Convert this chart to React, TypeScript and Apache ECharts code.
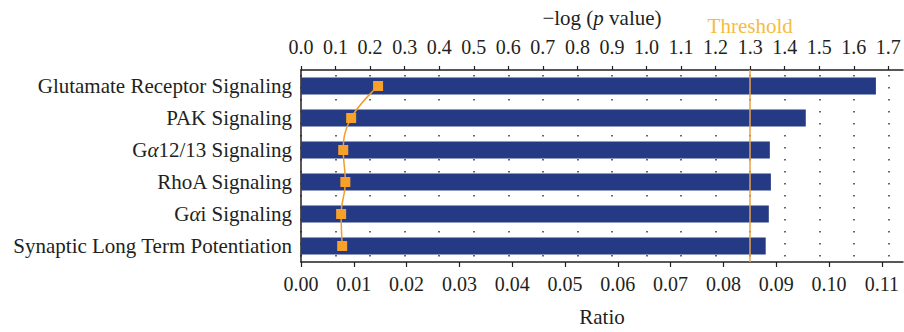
import React, { useEffect, useRef } from "react";
import * as echarts from "echarts";

const categories = [
  "Glutamate Receptor Signaling",
  "PAK Signaling",
  "Gα12/13 Signaling",
  "RhoA Signaling",
  "Gαi Signaling",
  "Synaptic Long Term Potentiation",
];
const negLogP = [1.664, 1.461, 1.357, 1.36, 1.354, 1.345];
const ratio = [0.0146, 0.0095, 0.008, 0.0084, 0.0076, 0.0078];
const threshold = 1.3;
const topTicks = [0, 0.1, 0.2, 0.3, 0.4, 0.5, 0.6, 0.7, 0.8, 0.9, 1.0, 1.1, 1.2, 1.3, 1.4, 1.5, 1.6, 1.7];
const bottomTicks = [0, 0.01, 0.02, 0.03, 0.04, 0.05, 0.06, 0.07, 0.08, 0.09, 0.1, 0.11];
const topMax = 1.7424;
const bottomMax = 0.11402;

const FONT = "'Liberation Serif', 'DejaVu Serif', serif";
const INK = "#231F20";

export default function App() {
  const ref = useRef<HTMLDivElement>(null);
  useEffect(() => {
    document.body.style.margin = "0";
    const chart = echarts.init(ref.current!, null, { renderer: "svg" });
    const axisLine = { show: true, lineStyle: { color: INK, width: 1.5 } };
    chart.setOption({
      animation: false,
      textStyle: { fontFamily: FONT, color: INK },
      grid: { left: 301, right: 1, top: 70, bottom: 64, containLabel: false },
      yAxis: {
        type: "category",
        data: categories,
        inverse: true,
        axisLine,
        axisTick: { show: false },
        axisLabel: {
          fontSize: 21,
          fontFamily: FONT,
          color: INK,
          margin: 9,
          formatter: (v: string) => v.replace("α", "{i|α}"),
          rich: { i: { fontStyle: "italic", fontSize: 21, fontFamily: FONT, color: INK } },
        },
      },
      xAxis: [
        {
          type: "value",
          position: "top",
          min: 0,
          max: topMax,
          axisLine,
          axisTick: { show: true, length: 4, customValues: topTicks, lineStyle: { color: INK, width: 1.2 } },
          axisLabel: {
            customValues: topTicks,
            formatter: (v: number) => v.toFixed(1),
            fontSize: 20,
            fontFamily: FONT,
            color: INK,
            margin: 13,
          },
          splitLine: {
            show: true,
            lineStyle: { color: "#333", width: 1.5, type: [1.5, 10.5], dashOffset: 7 },
          },
          name: "−log ({i|p} value)",
          nameLocation: "middle",
          nameGap: 42,
          nameTextStyle: {
            fontSize: 21,
            fontFamily: FONT,
            color: INK,
            rich: { i: { fontStyle: "italic", fontSize: 21, fontFamily: FONT, color: INK } },
          },
        },
        {
          type: "value",
          position: "bottom",
          min: 0,
          max: bottomMax,
          axisLine,
          axisTick: { show: true, length: 5, customValues: bottomTicks, lineStyle: { color: INK, width: 1.2 } },
          axisLabel: {
            customValues: bottomTicks,
            formatter: (v: number) => v.toFixed(2),
            fontSize: 20,
            fontFamily: FONT,
            color: INK,
            margin: 12,
          },
          splitLine: { show: false },
          name: "Ratio",
          nameLocation: "middle",
          nameGap: 44,
          nameTextStyle: { fontSize: 21, fontFamily: FONT, color: INK },
        },
      ],
      series: [
        {
          type: "bar",
          xAxisIndex: 0,
          data: negLogP,
          barWidth: 17,
          itemStyle: { color: "#253A85" },
          z: 2,
          markLine: {
            silent: true,
            symbol: ["none", "none"],
            data: [{ xAxis: threshold }],
            lineStyle: { color: "#EBA048", width: 1.5, type: "solid" },
            label: {
              show: true,
              formatter: "Threshold",
              position: "start",
              distance: 34,
              color: "#F5BD3D",
              fontSize: 21,
              fontFamily: FONT,
            },
          },
        },
        {
          type: "line",
          xAxisIndex: 1,
          data: ratio,
          smooth: 0.4,
          symbol: "rect",
          symbolSize: 10,
          lineStyle: { color: "#F29C2B", width: 1.5 },
          itemStyle: { color: "#F7A12B" },
          z: 4,
        },
      ],
    });
    return () => chart.dispose();
  }, []);
  return (
    <div
      ref={ref}
      style={{ position: "absolute", left: 0, top: 0, width: 904, height: 332 }}
    />
  );
}
